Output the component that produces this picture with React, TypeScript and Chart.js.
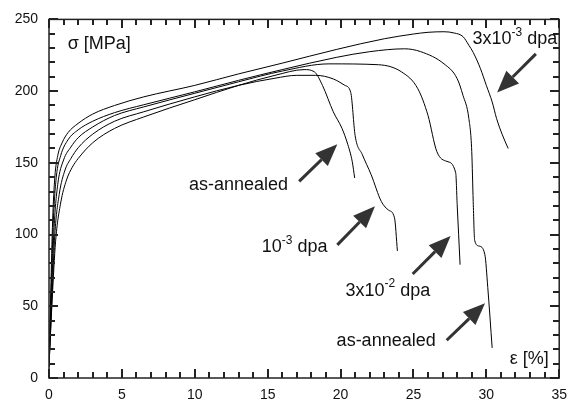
import React, { useEffect, useRef } from "react";
import { Chart, registerables } from "chart.js";

Chart.register(...registerables);

// Curve "3x10^-3 dpa"
const strainA = [0, 0.12, 0.25, 0.4, 0.6, 0.9, 1.3, 2, 3, 4.5, 6.5, 10, 13, 16, 19.7, 23, 25, 26, 27.1, 27.8, 28.4, 28.8, 29.1, 29.6, 30.0, 30.4, 30.7, 31.1, 31.5];
const stressA = [8, 60, 110, 140, 155, 164, 171, 177.5, 184, 190, 196, 204, 212, 219.5, 229, 236.5, 239.8, 241, 241.4, 240.5, 238, 232, 227, 215.6, 204, 192.5, 181, 169.5, 160];
// Curve "as-annealed" (long)
const strainB = [0, 0.15, 0.3, 0.5, 0.8, 1.3, 2, 3, 4.5, 6.5, 10, 13, 16, 19.7, 22, 24.4, 25.5, 27.1, 28, 28.4, 28.8, 29.0, 29.1, 29.2, 29.5, 29.9, 30.1, 30.4];
const stressB = [8, 60, 110, 140, 155, 166, 173, 179, 185, 190.5, 199.5, 207.5, 215, 223.5, 227.5, 229.5, 227.5, 219, 208.7, 197, 181, 158, 123, 96, 92, 86, 63, 21];
// Curve "3x10^-2 dpa"
const strainC = [0, 0.18, 0.35, 0.6, 1, 1.5, 2, 3, 4.5, 6.5, 10, 13, 16, 19.2, 22.6, 24.2, 25.3, 26.0, 26.6, 27.3, 27.9, 28.0, 28.2];
const stressC = [8, 60, 105, 135, 152, 161, 167.5, 175, 183, 189, 198.5, 206.5, 214, 219, 218.4, 213.3, 201.7, 183, 158, 151, 143, 121, 79];
// Curve "10^-3 dpa"
const strainD = [0, 0.2, 0.4, 0.7, 1.1, 1.5, 2, 3, 4.5, 6.5, 10, 13, 15.5, 17, 18.3, 19.5, 20.3, 20.7, 21.0, 21.5, 22.1, 22.8, 23.3, 23.7, 23.9];
const stressD = [8, 55, 100, 128, 145, 153, 160.5, 170, 179, 185.6, 196, 204, 209, 211, 211, 208.5, 204, 199, 169, 155.6, 141.7, 123, 117, 111.7, 88.6];
// Curve "as-annealed" (short)
const strainE = [0, 0.22, 0.45, 0.8, 1.2, 1.6, 2, 3, 4.5, 6.5, 10, 13, 15.5, 17.5, 18.2, 18.76, 19.5, 20.1, 20.5, 20.8, 20.97];
const stressE = [8, 55, 95, 122, 138, 147, 153, 164, 174, 182, 194, 204, 211, 215, 213.5, 204, 185.6, 174, 162.7, 151, 139.4];

const xTicks = [0, 5, 10, 15, 20, 25, 30, 35];
const yTicks = [0, 50, 100, 150, 200, 250];
const xMinorStep = 1;
const yMinorStep = 10;

// Annotations (data coordinates)
const labelTexts = [
  { parts: [["σ [MPa]", 0]], x: 1.28, y: 232.7 },
  { parts: [["3x10", 0], ["-3", 1], [" dpa", 0]], x: 29.05, y: 236.1 },
  { parts: [["as-annealed", 0]], x: 9.6, y: 134.7 },
  { parts: [["10", 0], ["-3", 1], [" dpa", 0]], x: 14.6, y: 91 },
  { parts: [["3x10", 0], ["-2", 1], [" dpa", 0]], x: 20.34, y: 60.9 },
  { parts: [["as-annealed", 0]], x: 19.73, y: 26 },
  { parts: [["ε [%]", 0]], x: 31.6, y: 13.5 },
];
const arrowTails = [[17.16, 137.1], [19.78, 92.8], [24.95, 72.5], [27.28, 26.3], [33.4, 226.0]];
const arrowTips = [[19.78, 162.9], [22.36, 119.8], [27.55, 99.0], [29.91, 52.1], [30.74, 199.0]];

const FONT = "'Liberation Sans', Arial, sans-serif";

function pts(xs: number[], ys: number[]) {
  return xs.map((x, i) => ({ x, y: ys[i] }));
}

const decorPlugin = {
  id: "decor",
  afterDraw(chart: any) {
    const ctx = chart.ctx;
    const xs = chart.scales.x;
    const ys = chart.scales.y;
    const ca = chart.chartArea;
    const left = ca.left, right = ca.right, top = ca.top, bottom = ca.bottom;
    ctx.save();
    // frame
    ctx.strokeStyle = "#222";
    ctx.lineWidth = 1.5;
    ctx.strokeRect(left, top, right - left, bottom - top);
    // ticks
    ctx.fillStyle = "#222";
    for (let i = 0; i <= 35; i++) {
      const px = Math.round(xs.left + (xs.right - xs.left) * (i * xMinorStep) / 35);
      const len = i % 5 === 0 ? 9 : 6;
      ctx.fillRect(px - 1, Math.round(bottom) - len, 2, len);
      ctx.fillRect(px - 1, Math.round(top), 2, len);
    }
    for (let i = 0; i <= 25; i++) {
      const py = Math.round(ys.bottom - (ys.bottom - ys.top) * (i * yMinorStep) / 250);
      const len = i % 5 === 0 ? 9 : 6;
      ctx.fillRect(Math.round(left), py - 1, len, 2);
      ctx.fillRect(Math.round(right) - len, py - 1, len, 2);
    }
    // arrows
    ctx.fillStyle = "#333";
    ctx.strokeStyle = "#333";
    arrowTails.forEach((t, i) => {
      const tip = arrowTips[i];
      const x0 = xs.getPixelForValue(t[0]);
      const y0 = ys.getPixelForValue(t[1]);
      const x1 = xs.getPixelForValue(tip[0]);
      const y1 = ys.getPixelForValue(tip[1]);
      const ang = Math.atan2(y1 - y0, x1 - x0);
      const hl = 22;
      const hw = 9;
      const bx = x1 - hl * Math.cos(ang);
      const by = y1 - hl * Math.sin(ang);
      ctx.lineWidth = 3;
      ctx.beginPath();
      ctx.moveTo(x0, y0);
      ctx.lineTo(bx, by);
      ctx.stroke();
      ctx.beginPath();
      ctx.moveTo(x1, y1);
      ctx.lineTo(bx + hw * Math.sin(ang), by - hw * Math.cos(ang));
      ctx.lineTo(bx - hw * Math.sin(ang), by + hw * Math.cos(ang));
      ctx.closePath();
      ctx.fill();
    });
    // texts
    ctx.fillStyle = "#111";
    ctx.textBaseline = "middle";
    ctx.textAlign = "left";
    labelTexts.forEach((lab) => {
      let px = xs.getPixelForValue(lab.x);
      const py = ys.getPixelForValue(lab.y);
      lab.parts.forEach((p: any) => {
        const sup = p[1] === 1;
        ctx.font = (sup ? "12px " : "18px ") + FONT;
        ctx.fillText(p[0], px, sup ? py - 7 : py);
        px += ctx.measureText(p[0]).width;
      });
    });
    ctx.restore();
  },
};

export default function App() {
  const ref = useRef<HTMLCanvasElement>(null);
  useEffect(() => {
    if (!ref.current) return;
    const mk = (xs: number[], ys: number[]) => ({
      data: pts(xs, ys),
      borderColor: "#000",
      borderWidth: 1,
      pointRadius: 0,
      showLine: true,
      fill: false,
      cubicInterpolationMode: "monotone" as const,
    });
    const chart = new Chart(ref.current, {
      type: "scatter",
      data: {
        datasets: [
          mk(strainA, stressA),
          mk(strainB, stressB),
          mk(strainC, stressC),
          mk(strainD, stressD),
          mk(strainE, stressE),
        ],
      },
      options: {
        animation: false,
        responsive: true,
        maintainAspectRatio: false,
        layout: { padding: { top: 17, right: 9, left: 0, bottom: 0 } },
        plugins: { legend: { display: false }, tooltip: { enabled: false } },
        scales: {
          x: {
            type: "linear",
            min: 0,
            max: 35,
            afterBuildTicks: (s: any) => {
              s.ticks = xTicks.map((v) => ({ value: v }));
            },
            afterFit: (s: any) => {
              s.height = 29;
            },
            grid: { display: false, drawTicks: false },
            border: { display: false },
            ticks: { padding: 9, color: "#111", font: { family: FONT, size: 14 } },
          },
          y: {
            type: "linear",
            min: 0,
            max: 250,
            afterBuildTicks: (s: any) => {
              s.ticks = yTicks.map((v) => ({ value: v }));
            },
            afterFit: (s: any) => {
              s.width = 49;
            },
            grid: { display: false, drawTicks: false },
            border: { display: false },
            ticks: { padding: 11, color: "#111", font: { family: FONT, size: 14 } },
          },
        },
      },
      plugins: [decorPlugin],
    });
    return () => chart.destroy();
  }, []);
  return (
    <div style={{ position: "absolute", left: 0, top: 0, width: 576, height: 407, background: "#fff" }}>
      <canvas ref={ref} />
    </div>
  );
}
